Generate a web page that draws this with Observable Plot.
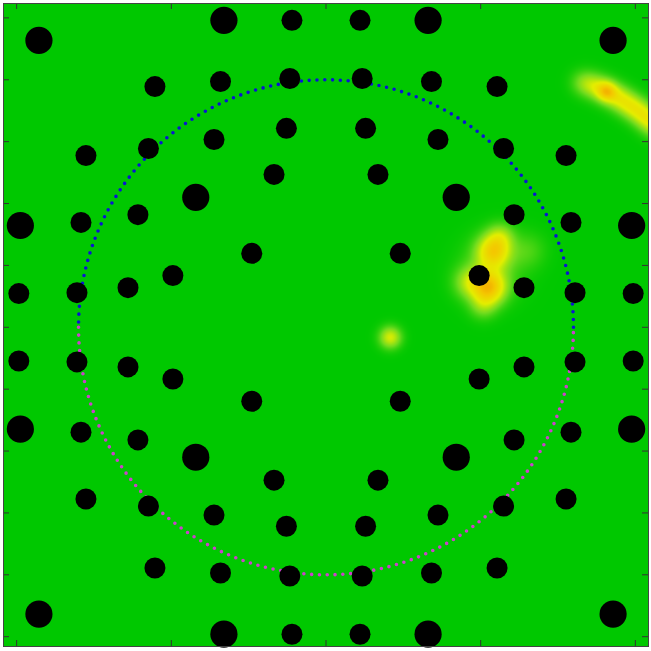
<!DOCTYPE html>
<html>
<head>
<meta charset="utf-8">
<script src="https://cdn.jsdelivr.net/npm/d3@7"></script>
<script src="https://cdn.jsdelivr.net/npm/@observablehq/plot@0.6"></script>
<style>
  html, body { margin: 0; padding: 0; background: #fff; }
  #chart { width: 651px; height: 651px; }
</style>
</head>
<body>
<div id="chart"></div>
<script>
// ---- Data ----
// Sensor positions (data units) and whether the marker is large (1) or small (0)
const sensorX = [
  -0.330, -0.110, 0.110, 0.330, -0.928, 0.928,
  -0.553, -0.341, -0.117, 0.117, 0.341, 0.553,
  -0.362, -0.128, 0.128, 0.362,
  -0.776, -0.574, 0.574, 0.776,
  -0.168, 0.168,
  -0.421, 0.421,
  -0.608, 0.608,
  -0.988, -0.792, 0.792, 0.988,
  -0.240, 0.240,
  -0.495, 0.495,
  -0.640, 0.640,
  -0.993, -0.805, 0.805, 0.993,
  // lower half
  -0.993, -0.805, 0.805, 0.993,
  -0.640, 0.640,
  -0.495, 0.495,
  -0.240, 0.240,
  -0.988, -0.792, 0.792, 0.988,
  -0.608, 0.608,
  -0.421, 0.421,
  -0.168, 0.168,
  -0.776, -0.574, 0.574, 0.776,
  -0.362, -0.128, 0.128, 0.362,
  -0.553, -0.341, -0.117, 0.117, 0.341, 0.553,
  -0.928, 0.928,
  -0.330, -0.110, 0.110, 0.330
];
const sensorY = [
  0.992, 0.992, 0.992, 0.992, 0.927, 0.927,
  0.778, 0.794, 0.804, 0.804, 0.794, 0.778,
  0.607, 0.643, 0.643, 0.607,
  0.555, 0.578, 0.578, 0.555,
  0.494, 0.494,
  0.420, 0.420,
  0.364, 0.364,
  0.329, 0.339, 0.339, 0.329,
  0.239, 0.239,
  0.167, 0.167,
  0.128, 0.128,
  0.109, 0.112, 0.112, 0.109,
  // lower half
  -0.109, -0.112, -0.112, -0.109,
  -0.128, -0.128,
  -0.167, -0.167,
  -0.239, -0.239,
  -0.329, -0.339, -0.339, -0.329,
  -0.364, -0.364,
  -0.420, -0.420,
  -0.494, -0.494,
  -0.555, -0.578, -0.578, -0.555,
  -0.607, -0.643, -0.643, -0.607,
  -0.778, -0.794, -0.804, -0.804, -0.794, -0.778,
  -0.927, -0.927,
  -0.992, -0.992, -0.992, -0.992
];
const sensorBig = [
  1, 0, 0, 1, 1, 1,
  0, 0, 0, 0, 0, 0,
  0, 0, 0, 0,
  0, 0, 0, 0,
  0, 0,
  1, 1,
  0, 0,
  1, 0, 0, 1,
  0, 0,
  0, 0,
  0, 0,
  0, 0, 0, 0,
  // lower half
  0, 0, 0, 0,
  0, 0,
  0, 0,
  0, 0,
  1, 0, 0, 1,
  0, 0,
  1, 1,
  0, 0,
  0, 0, 0, 0,
  0, 0, 0, 0,
  0, 0, 0, 0, 0, 0,
  1, 1,
  1, 0, 0, 1
];

// Hot spots in the intensity map: centre, peak contribution, spread (data units)
const hotX = [0.536, 0.541, 0.564, 0.652, 0.528, 0.466, 0.508, 0.208,
              0.829, 0.861, 0.894, 0.926, 0.955, 0.984, 1.013, 1.039, 1.065, 0.907];
const hotY = [0.190, 0.245, 0.293, 0.248, 0.129, 0.145, 0.070, -0.033,
              0.791, 0.782, 0.769, 0.753, 0.736, 0.717, 0.698, 0.675, 0.652, 0.762];
const hotV = [0.16, 0.58, 0.25, 0.12, 0.68, 0.30, 0.20, 0.42,
              0.16, 0.22, 0.25, 0.25, 0.26, 0.27, 0.27, 0.27, 0.27, 0.38];
const hotS = [0.065, 0.036, 0.030, 0.040, 0.036, 0.035, 0.030, 0.024,
              0.028, 0.028, 0.028, 0.028, 0.028, 0.028, 0.028, 0.028, 0.028, 0.020];

// Reference circle radius
const ringRadius = 0.8;

// Tick positions
const xTicks = [-1, -0.5, 0, 0.5, 1];
const yTicks = [-1, -0.8, -0.6, -0.4, -0.2, 0, 0.2, 0.4, 0.6, 0.8, 1];

// ---- Derived tables ----
const sensors = sensorX.map((x, i) => ({x, y: sensorY[i], big: sensorBig[i] === 1}));
const hot = hotX.map((x, i) => ({x, y: hotY[i], v: hotV[i], s: hotS[i]}));

function heat(x, y) {
  let v = 0;
  for (const h of hot) {
    const d2 = (x - h.x) ** 2 + (y - h.y) ** 2;
    v += h.v * Math.exp(-d2 / (2 * h.s * h.s));
  }
  return v;
}

const ringUpper = d3.range(0, 181).map(a => ({
  x: ringRadius * Math.cos(a * Math.PI / 180),
  y: ringRadius * Math.sin(a * Math.PI / 180)
}));
const ringLower = d3.range(180, 361).map(a => ({
  x: ringRadius * Math.cos(a * Math.PI / 180),
  y: ringRadius * Math.sin(a * Math.PI / 180)
}));

const W = 651, H = 651;
const mT = 3, mB = 5, mL = 3, mR = 3;
const innerW = W - mL - mR, innerH = H - mT - mB;
const xDomain = [-1.0425, 1.0425];
const yDomain = [-1.0317, 1.0465];

const chart = Plot.plot({
  width: W,
  height: H,
  marginTop: mT, marginBottom: mB, marginLeft: mL, marginRight: mR,
  x: {domain: xDomain, axis: null},
  y: {domain: yDomain, axis: null},
  color: {
    type: "linear",
    domain: [0, 0.2, 0.45, 0.75, 1],
    range: ["#00c800", "#72dc1e", "#e4ee00", "#f4c800", "#f29c00"],
    clamp: true
  },
  marks: [
    Plot.raster({
      fill: (x, y) => heat(x, y),
      x1: xDomain[0], x2: xDomain[1], y1: yDomain[0], y2: yDomain[1],
      pixelSize: 1
    }),
    Plot.line(ringUpper, {x: "x", y: "y", stroke: "#0a14d2", strokeWidth: 3.6,
      strokeDasharray: "0 7.8", strokeLinecap: "round"}),
    Plot.line(ringLower, {x: "x", y: "y", stroke: "#cc40cc", strokeWidth: 3.6,
      strokeDasharray: "0 7.8", strokeLinecap: "round"}),
    Plot.dot(sensors.filter(d => !d.big), {x: "x", y: "y", r: 10.5, fill: "black"}),
    Plot.dot(sensors.filter(d => d.big), {x: "x", y: "y", r: 13.6, fill: "black"}),
    Plot.ruleX(xTicks, {x: d => d, stroke: "#333", insetBottom: innerH - 6}),
    Plot.ruleX(xTicks, {x: d => d, stroke: "#333", insetTop: innerH - 6}),
    Plot.ruleY(yTicks, {y: d => d, stroke: "#333", insetRight: innerW - 6}),
    Plot.ruleY(yTicks, {y: d => d, stroke: "#333", insetLeft: innerW - 6}),
    Plot.frame({stroke: "#444"})
  ]
});
document.getElementById("chart").appendChild(chart);
</script>
</body>
</html>
